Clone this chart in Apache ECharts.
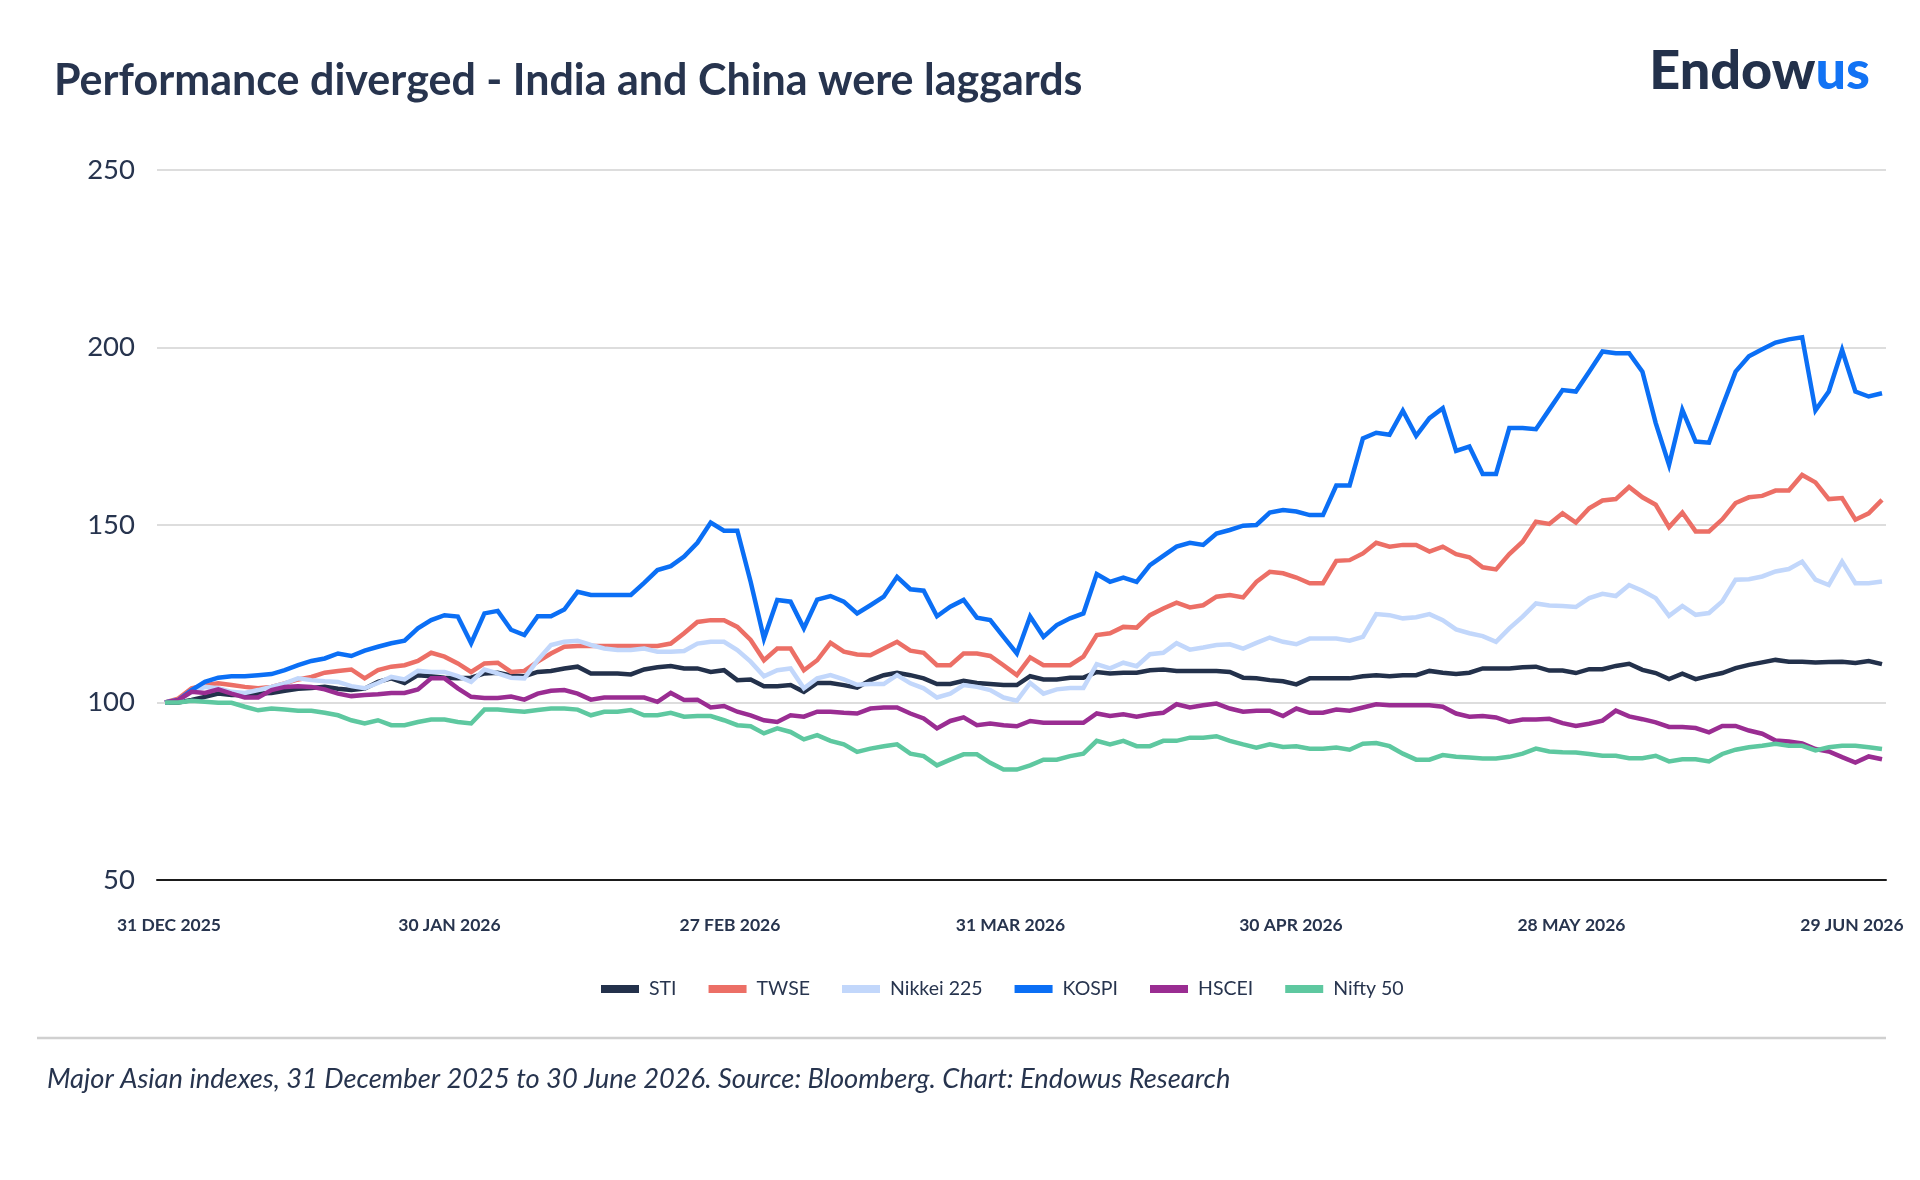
<!DOCTYPE html>
<html>
<head>
<meta charset="utf-8">
<script src="https://cdn.jsdelivr.net/npm/echarts@6/dist/echarts.min.js"></script>
<style>
html,body{margin:0;padding:0;background:#fff;}
#chart{width:1920px;height:1180px;}
</style>
</head>
<body>
<div id="chart"></div>
<script>
// ---- data ----
const titleText = 'Performance diverged - India and China were laggards';
const footerText = 'Major Asian indexes, 31 December 2025 to 30 June 2026. Source: Bloomberg. Chart: Endowus Research';
const seriesNames = ['STI', 'TWSE', 'Nikkei 225', 'KOSPI', 'HSCEI', 'Nifty 50'];
const xTickLabels = ['31 DEC 2025', '30 JAN 2026', '27 FEB 2026', '31 MAR 2026', '30 APR 2026', '28 MAY 2026', '29 JUN 2026'];
const xTickIndex = [0, 21, 42, 63, 84, 105, 126];
const yTicks = [50, 100, 150, 200, 250];

const sti = [100,100.0,100.7,101.6,102.5,102.1,102.1,102.5,102.7,103.3,103.9,104.1,104.4,103.9,103.5,103.9,105.8,106.8,105.5,107.7,107.4,107.0,106.8,107.0,108.2,108.4,107.6,107.4,108.6,108.9,109.6,110.1,108.2,108.2,108.2,107.9,109.3,109.9,110.3,109.6,109.6,108.6,109.1,106.3,106.5,104.6,104.6,104.9,103.0,105.5,105.5,104.9,104.2,106.3,107.7,108.4,107.7,106.8,105.2,105.2,106.1,105.5,105.2,104.9,104.9,107.4,106.5,106.5,107.0,107.0,108.6,108.2,108.4,108.4,109.1,109.3,108.9,108.9,108.9,108.9,108.6,107.0,106.8,106.3,106.0,105.1,106.8,106.8,106.8,106.8,107.4,107.7,107.4,107.7,107.7,108.9,108.4,108.0,108.4,109.6,109.6,109.6,109.9,110.1,109.0,109.0,108.3,109.4,109.4,110.3,110.9,109.2,108.3,106.6,108.1,106.6,107.5,108.3,109.7,110.6,111.3,112.0,111.5,111.5,111.3,111.4,111.5,111.1,111.7,110.8];
const twse = [100,101.1,104.0,104.9,105.4,104.9,104.4,104.0,104.4,105.4,106.5,107.2,108.4,108.9,109.3,106.8,109.1,110.1,110.5,111.7,114.0,112.9,111.0,108.6,111.0,111.2,108.6,108.9,111.5,113.8,115.7,115.9,115.9,115.9,115.9,115.9,115.9,115.9,116.6,119.5,122.7,123.2,123.2,121.3,117.6,111.9,115.2,115.2,109.1,111.9,116.8,114.3,113.5,113.3,115.2,117.1,114.6,114.0,110.5,110.5,113.8,113.8,113.1,110.5,107.7,112.7,110.5,110.5,110.5,112.9,119.0,119.5,121.3,121.1,124.6,126.5,128.1,126.8,127.4,129.8,130.3,129.6,134.0,136.8,136.4,135.2,133.6,133.6,139.9,140.1,142.0,145.0,143.9,144.4,144.4,142.5,143.9,141.8,140.9,138.1,137.5,141.8,145.3,150.9,150.3,153.3,150.7,154.7,156.9,157.3,160.7,157.8,155.7,149.4,153.5,148.2,148.2,151.6,156.2,157.8,158.2,159.7,159.7,164.1,162.0,157.3,157.6,151.5,153.3,157.1];
const nikkei = [100,100.7,103.0,104.4,104.0,103.0,102.7,103.5,104.4,105.4,106.8,106.3,106.0,105.8,104.6,104.0,105.5,107.2,106.5,108.9,108.6,108.6,107.4,105.8,109.3,108.2,107.0,106.8,111.9,116.2,117.1,117.4,116.2,115.2,114.8,114.8,115.2,114.3,114.3,114.5,116.6,117.1,117.1,114.8,111.5,107.4,109.1,109.6,104.0,106.8,107.7,106.5,105.0,105.2,105.2,107.7,105.4,104.0,101.4,102.5,104.9,104.4,103.5,101.4,100.5,105.5,102.5,103.7,104.1,104.1,110.8,109.6,111.2,110.2,113.6,114.0,116.7,114.9,115.5,116.2,116.4,115.2,116.8,118.3,117.1,116.4,118.0,118.0,118.0,117.4,118.5,124.9,124.6,123.7,124.0,124.9,123.2,120.6,119.5,118.7,117.1,120.9,124.2,127.9,127.3,127.2,126.9,129.4,130.6,130.0,133.1,131.5,129.4,124.4,127.2,124.7,125.2,128.5,134.6,134.7,135.5,136.9,137.6,139.7,134.6,133.1,139.7,133.6,133.6,134.1];
const kospi = [100,100.7,103.5,105.8,107.0,107.4,107.4,107.7,108.0,109.1,110.5,111.7,112.4,113.8,113.1,114.6,115.7,116.7,117.4,120.9,123.2,124.6,124.2,116.7,125.1,125.8,120.5,119.0,124.3,124.3,126.2,131.2,130.3,130.3,130.3,130.3,133.7,137.3,138.4,141.1,145.0,150.7,148.4,148.4,134.0,118.0,128.9,128.4,120.9,129.0,130.0,128.4,125.1,127.4,129.8,135.4,131.9,131.5,124.3,127.0,128.9,123.9,123.2,118.5,113.8,124.2,118.5,121.8,123.7,125.1,136.2,134.0,135.2,134.0,138.7,141.3,143.9,145.0,144.4,147.6,148.6,149.8,150.0,153.5,154.2,153.8,152.8,152.8,161.1,161.1,174.4,176.0,175.4,182.2,175.1,180.1,182.9,170.9,172.1,164.4,164.4,177.3,177.3,177.0,182.5,188.0,187.6,193.2,198.9,198.4,198.4,193.2,178.7,166.9,182.4,173.5,173.2,183.4,193.2,197.5,199.5,201.4,202.3,202.9,182.3,187.6,199.3,187.6,186.2,187.1];
const hscei = [100,100.7,103.0,102.7,103.7,102.5,101.4,101.4,103.5,104.4,104.6,104.4,103.7,102.5,101.8,102.1,102.3,102.7,102.7,103.7,106.8,106.8,104.0,101.6,101.3,101.3,101.7,100.8,102.5,103.3,103.5,102.5,100.8,101.4,101.4,101.4,101.4,100.2,102.7,100.7,100.8,98.6,99.0,97.4,96.4,95.0,94.5,96.4,96.0,97.4,97.4,97.1,96.9,98.3,98.6,98.6,96.9,95.5,92.7,94.8,95.8,93.6,94.1,93.6,93.3,94.8,94.3,94.3,94.3,94.3,96.9,96.2,96.7,96.0,96.7,97.1,99.5,98.6,99.2,99.7,98.3,97.4,97.7,97.7,96.2,98.3,97.1,97.1,98.0,97.7,98.6,99.5,99.2,99.2,99.2,99.2,98.8,96.9,96.0,96.2,95.8,94.5,95.2,95.2,95.4,94.2,93.4,94.0,94.9,97.7,96.1,95.3,94.4,93.1,93.1,92.8,91.6,93.4,93.4,92.1,91.2,89.3,89.0,88.5,86.9,86.2,84.6,83.1,84.8,84.0];
const nifty = [100,100,100.5,100.2,99.9,99.9,98.8,97.8,98.3,98.0,97.7,97.7,97.1,96.4,95.0,94.1,95.0,93.6,93.6,94.5,95.2,95.2,94.5,94.1,98.0,98.0,97.7,97.4,97.9,98.3,98.3,98.0,96.4,97.4,97.4,97.9,96.4,96.4,97.1,96.0,96.2,96.2,95.0,93.6,93.3,91.3,92.7,91.7,89.6,90.8,89.2,88.2,86.1,87.0,87.7,88.2,85.6,84.9,82.3,83.9,85.4,85.4,83.0,81.1,81.1,82.3,83.9,83.9,84.9,85.6,89.2,88.2,89.2,87.7,87.7,89.2,89.2,90.1,90.1,90.5,89.2,88.2,87.3,88.2,87.5,87.7,87.0,87.0,87.3,86.7,88.4,88.6,87.7,85.6,83.9,83.9,85.2,84.7,84.5,84.2,84.2,84.7,85.6,87.0,86.2,86.0,85.9,85.5,85.0,85.0,84.3,84.3,85.0,83.4,84.0,84.0,83.4,85.5,86.7,87.4,87.8,88.4,87.8,87.8,86.5,87.4,87.8,87.8,87.4,86.9];

// category dates (weekdays from 31 Dec 2025)
const dates = [];
(function(){
  let d = new Date(Date.UTC(2025, 11, 31));
  while (dates.length < sti.length) {
    const wd = d.getUTCDay();
    if (wd !== 0 && wd !== 6) dates.push(d.toISOString().slice(0, 10));
    d = new Date(d.getTime() + 86400000);
  }
})();

const seriesValues = [sti, twse, nikkei, kospi, hscei, nifty];
const colors = ['#23314b', '#ec6f66', '#c2d7fb', '#0b6ff5', '#9a2d92', '#5ec8a0'];

// label anchor positions along the axis (slightly right of the tick index, as in the reference)
const labelPos = xTickIndex.map(i => i * 1.0035 + 0.3);

const ink = '#27344e';
const chart = echarts.init(document.getElementById('chart'), null, {renderer: 'canvas'});
chart.setOption({
  animation: false,
  backgroundColor: '#ffffff',
  textStyle: {fontFamily: 'Lato'},
  grid: {left: 157, right: 34, top: 170, bottom: 300, containLabel: false},
  legend: {
    data: seriesNames,
    left: 601, top: 979, padding: 0,
    icon: 'rect', itemWidth: 38, itemHeight: 8, itemGap: 32,
    textStyle: {fontFamily: 'Lato', fontSize: 19.5, color: ink, padding: [0, 0, 0, 5]}
  },
  xAxis: {
    type: 'value', min: -0.6, max: 129.3,
    axisLine: {show: true, lineStyle: {color: '#1b1b1b', width: 2}},
    axisTick: {show: false},
    splitLine: {show: false},
    axisLabel: {
      customValues: labelPos,
      margin: 36,
      fontFamily: 'Lato', fontWeight: 'bold', fontSize: 17.5, color: ink,
      formatter: function (v) {
        let best = 0;
        labelPos.forEach((p, k) => { if (Math.abs(p - v) < Math.abs(labelPos[best] - v)) best = k; });
        return xTickLabels[best];
      }
    }
  },
  yAxis: {
    type: 'value', min: yTicks[0], max: yTicks[yTicks.length - 1], interval: 50,
    axisLine: {show: false}, axisTick: {show: false},
    splitLine: {lineStyle: {color: '#d2d2d2', width: 1.5}},
    axisLabel: {margin: 22, fontFamily: 'Lato', fontSize: 27.5, color: ink}
  },
  series: seriesNames.map((name, k) => ({
    name: name, type: 'line', showSymbol: false, symbol: 'none',
    color: colors[k],
    lineStyle: {width: 4.5, color: colors[k], join: 'miter'},
    data: seriesValues[k].map((v, i) => [i, v]),
    z: 2 + k
  })),
  graphic: [
    {type: 'text', left: 54, top: 60, style: {text: titleText, font: 'bold 43px Lato', fill: ink}},
    {type: 'text', right: 50, top: 45, style: {
      text: '{a|Endow}{b|us}',
      rich: {
        a: {fill: '#23314b', fontWeight: 900, fontSize: 54, fontFamily: 'Lato'},
        b: {fill: '#1273f4', fontWeight: 900, fontSize: 54, fontFamily: 'Lato'}
      }
    }},
    {type: 'line', shape: {x1: 37, y1: 1038, x2: 1886, y2: 1038}, style: {stroke: '#d0d0d0', lineWidth: 2.5}},
    {type: 'text', left: 47, top: 1066, style: {text: footerText, font: 'italic 27.3px Lato', fill: ink}}
  ]
});
</script>
</body>
</html>
